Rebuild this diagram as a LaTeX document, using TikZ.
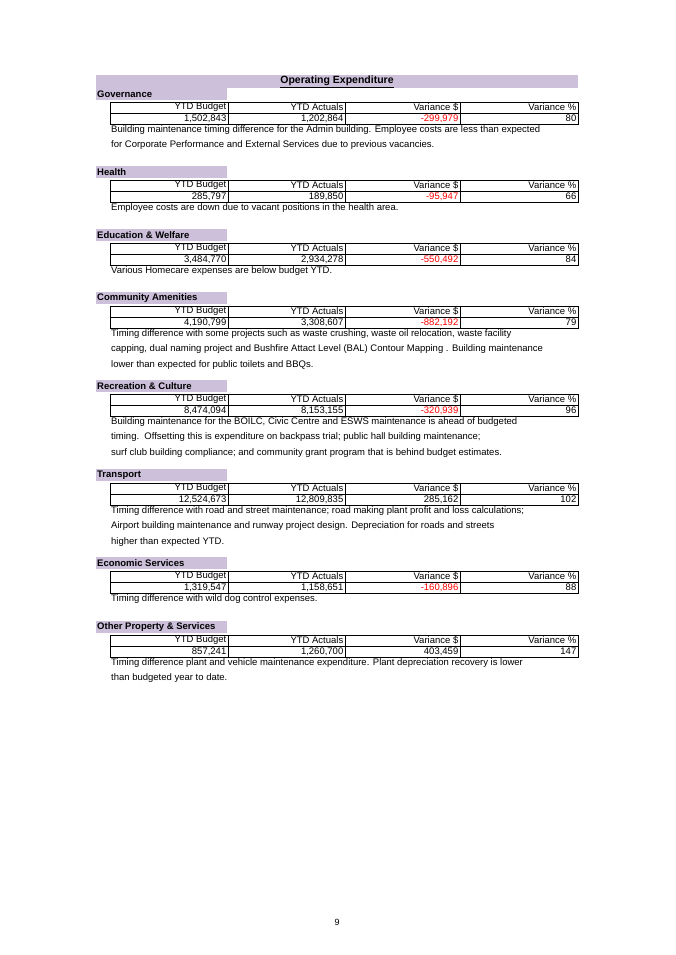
\documentclass[tikz,border=0pt]{standalone}
\usepackage{fontspec}
\setmainfont{Liberation Sans}
\usepackage{xcolor}
\definecolor{bandlilac}{RGB}{204,192,218}
\definecolor{varred}{RGB}{255,0,0}
\tikzset{
  band/.style={fill=bandlilac,draw=none},
  cell/.style={anchor=east,inner sep=1.5pt,font=\fontsize{9.5}{11}\selectfont},
  note/.style={anchor=north west,inner sep=0pt,align=left,font=\fontsize{9.5}{15.5}\selectfont},
  head/.style={anchor=west,inner sep=1pt,font=\fontsize{9.5}{11}\selectfont\bfseries}
}
% one section: top y, name, budget, actuals, variance, percent, colour, note
\newcommand{\costsec}[8]{%
  \fill[band] (96,#1) rectangle (227,#1+12);
  \node[head] (hd#1) at (96,#1+6) {#2};
  \draw (110,#1+14) rectangle (578,#1+36);
  \draw (110,#1+25) -- (578,#1+25);
  \foreach \cx in {228,345,460} \draw (\cx,#1+14) -- (\cx,#1+36);
  \node[cell] at (228,#1+19.5) {YTD Budget};
  \node[cell] at (345,#1+19.5) {YTD Actuals};
  \node[cell] at (460,#1+19.5) {Variance \$};
  \node[cell] at (578,#1+19.5) {Variance \%};
  \node[cell] at (228,#1+30.5) {#3};
  \node[cell] at (345,#1+30.5) {#4};
  \node[cell,text=#7] at (460,#1+30.5) {#5};
  \node[cell] at (578,#1+30.5) {#6};
  \node[note] (nt#1) at (111,#1+37) {#8};
}
\begin{document}
\begin{tikzpicture}[x=1pt,y=1pt,yscale=-1]
\fill[white] (0,0) rectangle (675,955);
\fill[band] (96,75) rectangle (578,88);
\node[inner sep=0pt,font=\fontsize{10.5}{12}\selectfont\bfseries] (title) at (337,81.5) {\underline{Operating Expenditure}};

\costsec{88}{Governance}{1,502,843}{1,202,864}{-299,979}{80}{varred}{Building maintenance timing difference for the Admin building. Employee costs are less than expected\\for Corporate Performance and External Services due to previous vacancies.}
\costsec{166}{Health}{285,797}{189,850}{-95,947}{66}{varred}{Employee costs are down due to vacant positions in the health area.}
\costsec{229}{Education \& Welfare}{3,484,770}{2,934,278}{-550,492}{84}{varred}{Various Homecare expenses are below budget YTD.}
\costsec{292}{Community Amenities}{4,190,799}{3,308,607}{-882,192}{79}{varred}{Timing difference with some projects such as waste crushing, waste oil relocation, waste facility\\capping, dual naming project and Bushfire Attact Level (BAL) Contour Mapping . Building maintenance\\lower than expected for public toilets and BBQs.}
\costsec{380}{Recreation \& Culture}{8,474,094}{8,153,155}{-320,939}{96}{varred}{Building maintenance for the BOILC, Civic Centre and ESWS maintenance is ahead of budgeted\\timing.\ \ Offsetting this is expenditure on backpass trial; public hall building maintenance;\\surf club building compliance; and community grant program that is behind budget estimates.}
\costsec{469}{Transport}{12,524,673}{12,809,835}{285,162}{102}{black}{Timing difference with road and street maintenance; road making plant profit and loss calculations;\\Airport building maintenance and runway project design. Depreciation for roads and streets\\higher than expected YTD.}
\costsec{557}{Economic Services}{1,319,547}{1,158,651}{-160,896}{88}{varred}{Timing difference with wild dog control expenses.}
\costsec{621}{Other Property \& Services}{857,241}{1,260,700}{403,459}{147}{black}{Timing difference plant and vehicle maintenance expenditure. Plant depreciation recovery is lower\\than budgeted year to date.}

\node[font=\fontsize{9}{11}\selectfont] (pagenum) at (337,922) {9};
\end{tikzpicture}
\end{document}
